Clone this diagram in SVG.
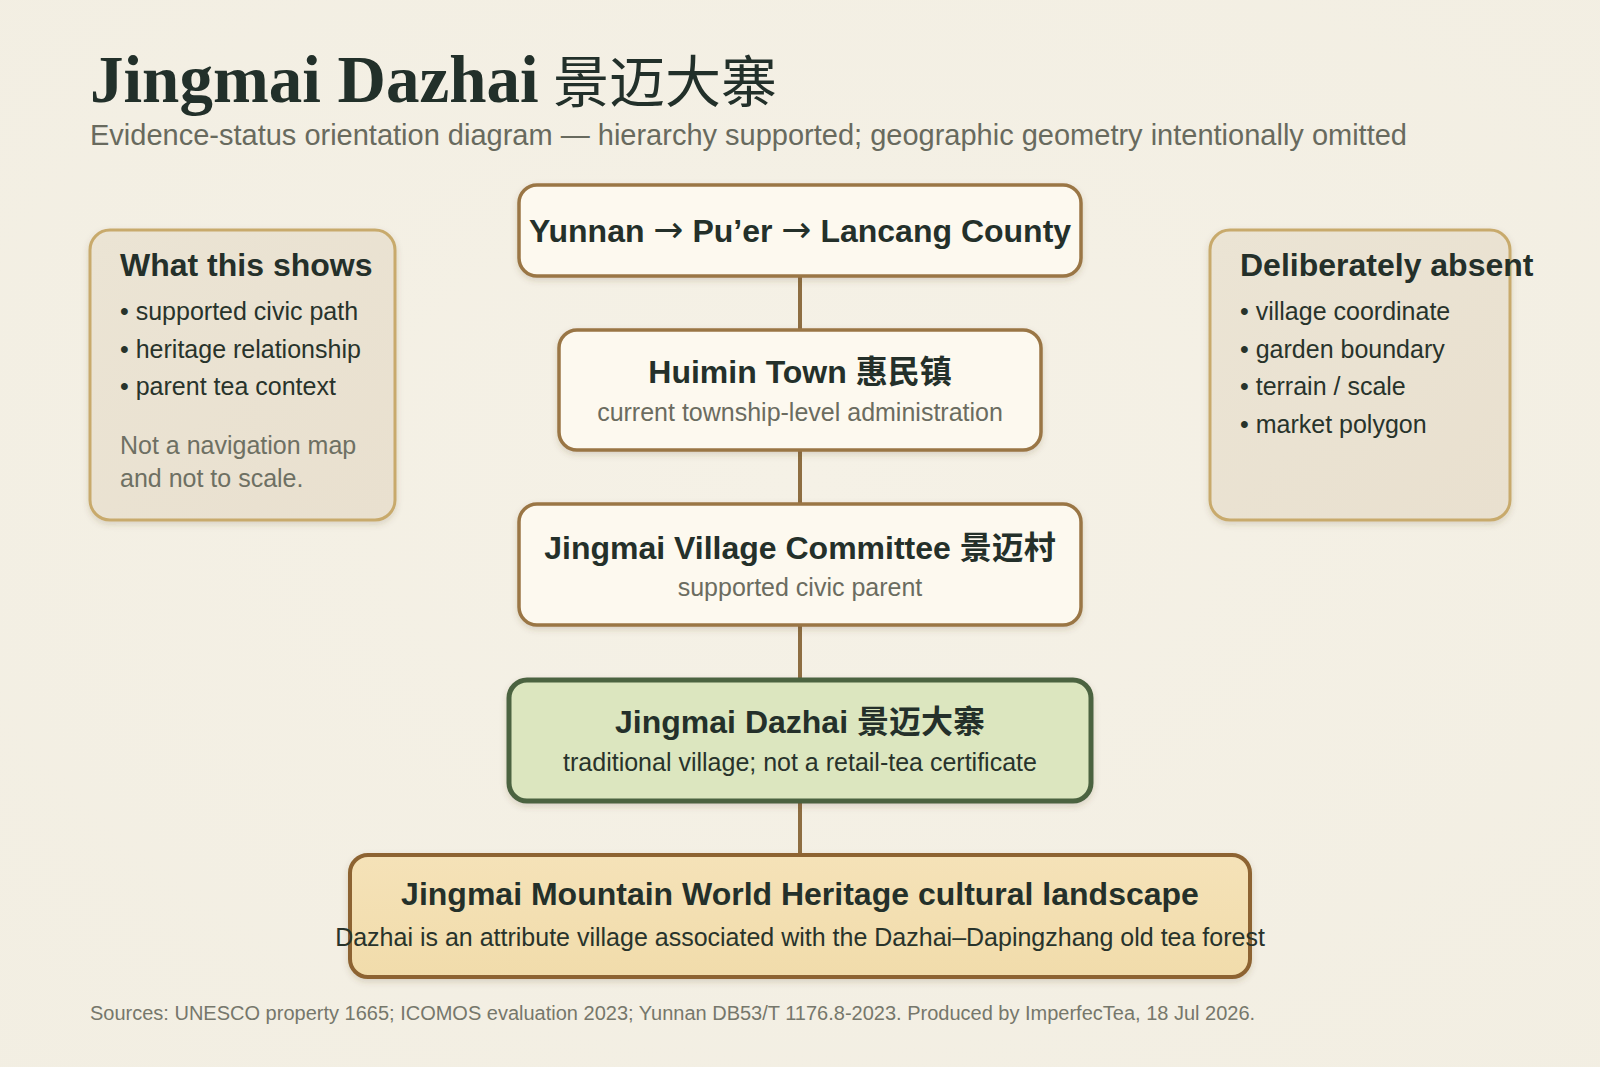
<svg xmlns="http://www.w3.org/2000/svg" width="1600" height="1067" viewBox="0 0 1600 1067">
<defs>
<radialGradient id="bg" cx="0.5" cy="0.45" r="0.8">
<stop offset="0" stop-color="#f5f1e6"/>
<stop offset="1" stop-color="#f2eee2"/>
</radialGradient>
<linearGradient id="side" x1="0" y1="0" x2="1" y2="1">
<stop offset="0" stop-color="#ebe4d4"/>
<stop offset="1" stop-color="#e9e0cf"/>
</linearGradient>
<linearGradient id="heri" x1="0" y1="0" x2="0" y2="1">
<stop offset="0" stop-color="#f5e2b8"/>
<stop offset="1" stop-color="#f1dcab"/>
</linearGradient>
<filter id="sh" x="-10%" y="-10%" width="120%" height="130%">
<feDropShadow dx="0" dy="3" stdDeviation="3" flood-color="#5a4520" flood-opacity="0.18"/>
</filter>
</defs>
<style>
.sans{font-family:"Liberation Sans","Noto Sans CJK SC",Arial,sans-serif}
.h{font-weight:bold;font-size:32px;fill:#24302a}
.sub{font-size:25px;fill:#6b6c60}
.item{font-size:25px;fill:#28332b}
.note{font-size:25px;fill:#6e7063}
.box{fill:#fdf9ef;stroke:#9a7645;stroke-width:3.5}
.sidebox{fill:url(#side);stroke:#c8aa6c;stroke-width:3}
.conn{stroke:#8e6e42;stroke-width:4;fill:none}
.arr{font-family:"DejaVu Sans",sans-serif;font-weight:normal;font-size:36px}
</style>
<rect width="1600" height="1067" fill="url(#bg)"/>
<g id="title">
<text x="90" y="102" font-family="'Liberation Serif','Noto Sans CJK SC',serif" font-weight="bold" font-size="67" fill="#22302a">Jingmai Dazhai <tspan x="553" font-family="'Noto Sans CJK SC',sans-serif" font-size="56" font-weight="normal">景迈大寨</tspan></text>
<text class="sans" x="90" y="145" font-size="29" fill="#686a5e">Evidence-status orientation diagram — hierarchy supported; geographic geometry intentionally omitted</text>
</g>
<g id="connectors">
<line class="conn" x1="800" y1="276" x2="800" y2="330"/>
<line class="conn" x1="800" y1="450" x2="800" y2="504"/>
<line class="conn" x1="800" y1="625" x2="800" y2="680"/>
<line class="conn" x1="800" y1="801" x2="800" y2="855"/>
</g>
<g id="what-this-shows">
<rect class="sidebox" x="90" y="230" width="305" height="290" rx="20" filter="url(#sh)"/>
<text class="sans h" x="120" y="276">What this shows</text>
<text class="sans item" x="120" y="320">• supported civic path</text>
<text class="sans item" x="120" y="357.5">• heritage relationship</text>
<text class="sans item" x="120" y="395">• parent tea context</text>
<text class="sans note" x="120" y="454">Not a navigation map</text>
<text class="sans note" x="120" y="486.5">and not to scale.</text>
</g>
<g id="deliberately-absent">
<rect class="sidebox" x="1210" y="230" width="300" height="290" rx="20" filter="url(#sh)"/>
<text class="sans h" x="1240" y="276">Deliberately absent</text>
<text class="sans item" x="1240" y="320">• village coordinate</text>
<text class="sans item" x="1240" y="357.5">• garden boundary</text>
<text class="sans item" x="1240" y="395">• terrain / scale</text>
<text class="sans item" x="1240" y="432.5">• market polygon</text>
</g>
<g id="node-county">
<rect class="box" x="519" y="185" width="562" height="91" rx="18" filter="url(#sh)"/>
<text class="sans h" x="800" y="242" text-anchor="middle">Yunnan <tspan class="arr">→</tspan> Pu’er <tspan class="arr">→</tspan> Lancang County</text>
</g>
<g id="node-town">
<rect class="box" x="559" y="330" width="482" height="120" rx="18" filter="url(#sh)"/>
<text class="sans h" x="800" y="383" text-anchor="middle">Huimin Town 惠民镇</text>
<text class="sans sub" x="800" y="421" text-anchor="middle">current township-level administration</text>
</g>
<g id="node-committee">
<rect class="box" x="519" y="504" width="562" height="121" rx="18" filter="url(#sh)"/>
<text class="sans h" x="800" y="559" text-anchor="middle">Jingmai Village Committee 景迈村</text>
<text class="sans sub" x="800" y="596" text-anchor="middle">supported civic parent</text>
</g>
<g id="node-dazhai">
<rect x="509" y="680" width="582" height="121" rx="18" fill="#dce6bf" stroke="#4b6341" stroke-width="5" filter="url(#sh)"/>
<text class="sans h" x="800" y="733" text-anchor="middle">Jingmai Dazhai 景迈大寨</text>
<text class="sans item" x="800" y="771" text-anchor="middle">traditional village; not a retail-tea certificate</text>
</g>
<g id="node-heritage">
<rect x="350" y="855" width="900" height="122" rx="18" fill="url(#heri)" stroke="#8d6430" stroke-width="4" filter="url(#sh)"/>
<text class="sans h" x="800" y="905" text-anchor="middle">Jingmai Mountain World Heritage cultural landscape</text>
<text class="sans item" x="800" y="946" text-anchor="middle">Dazhai is an attribute village associated with the Dazhai–Dapingzhang old tea forest</text>
</g>
<text class="sans" x="90" y="1020" font-size="20" fill="#76776b">Sources: UNESCO property 1665; ICOMOS evaluation 2023; Yunnan DB53/T 1176.8-2023. Produced by ImperfecTea, 18 Jul 2026.</text>
</svg>
